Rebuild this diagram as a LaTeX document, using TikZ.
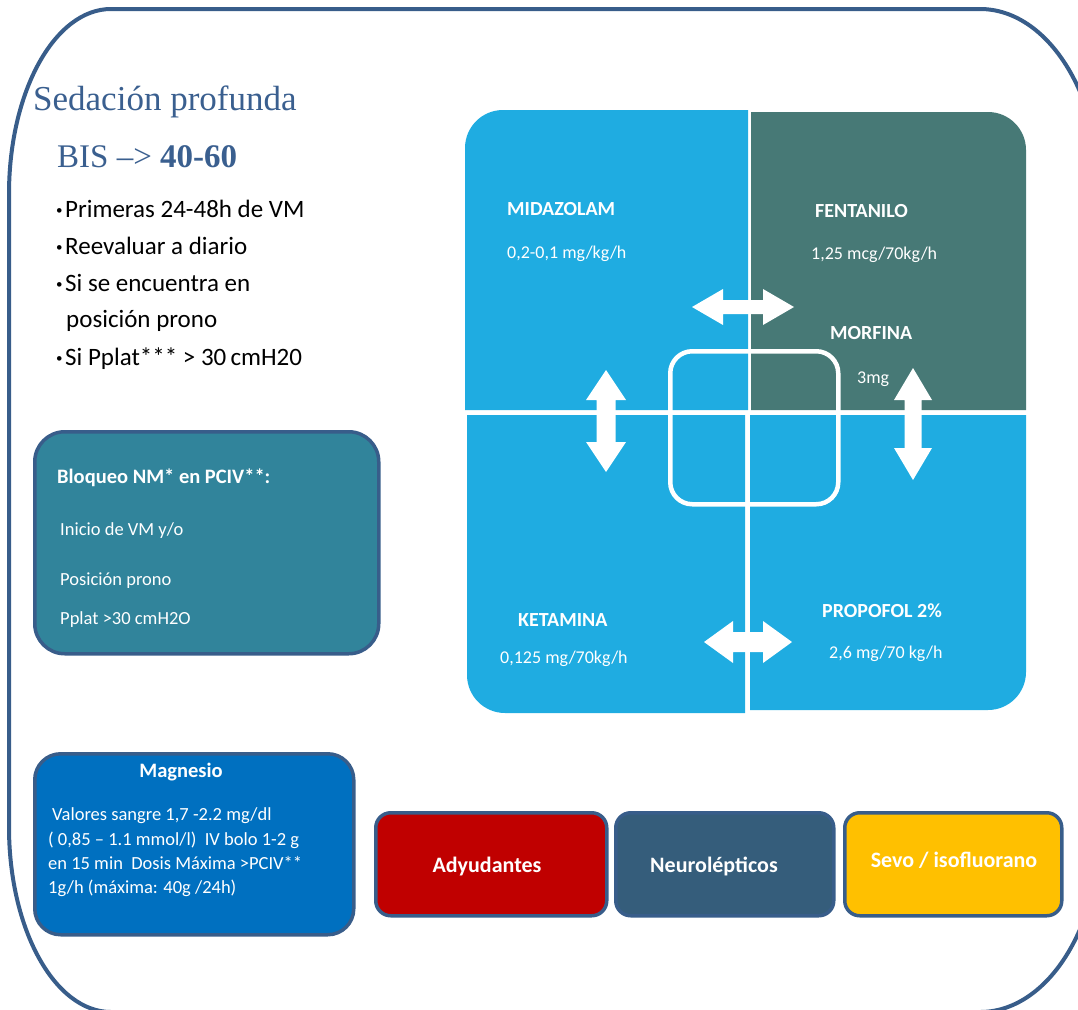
\documentclass[tikz,border=0pt]{standalone}
\usepackage{fontspec}
\setmainfont{Carlito}
\newfontfamily\headfont{Liberation Serif}

\definecolor{framec}{HTML}{385D8A}
\definecolor{headc}{HTML}{3A5F8F}
\definecolor{quadblue}{HTML}{1FACE1}
\definecolor{quadgreen}{HTML}{477976}
\definecolor{nmteal}{HTML}{31849B}
\definecolor{mgblue}{HTML}{0070C0}
\definecolor{adred}{HTML}{C00000}
\definecolor{neuroc}{HTML}{355D7B}
\definecolor{sevoc}{HTML}{FFC000}

\newcommand{\twoway}[6]{%
	\fill[white, shift={(#1)}, rotate=#2]
	(-#3,0) -- (-#3+#4,#5) -- (-#3+#4,#6) -- (#3-#4,#6) -- (#3-#4,#5) -- (#3,0)
	-- (#3-#4,-#5) -- (#3-#4,-#6) -- (-#3+#4,-#6) -- (-#3+#4,-#5) -- cycle;}
\newcommand{\dotmark}{\raisebox{3pt}{\fontsize{13}{13}\selectfont\textbullet}\hspace{2.5pt}}

\tikzset{
	panel/.style={draw=framec, line width=3.5pt, rounded corners=#1, anchor=north west, inner sep=0pt},
	item/.style={anchor=base west, inner sep=0pt, font=\fontsize{25}{30}\selectfont},
	drug/.style={anchor=base west, inner sep=0pt, text=white, font=\fontsize{20}{24}\selectfont\bfseries},
	dose/.style={anchor=base west, inner sep=0pt, text=white, font=\fontsize{18}{22}\selectfont},
	nmtext/.style={anchor=base west, inner sep=0pt, text=white, font=\fontsize{18.5}{22}\selectfont},
	nmhead/.style={inner sep=0pt, text=white, font=\fontsize{20.5}{24}\selectfont\bfseries},
	boxlabel/.style={anchor=base, inner sep=0pt, text=white, font=\fontsize{22}{26}\selectfont\bfseries}
}

\begin{document}
\begin{tikzpicture}[x=1pt, y=-1pt]
		\useasboundingbox (0,0) rectangle (1078,1009);
		\clip (0,0) rectangle (1078,1009);
		
		\draw[framec, line width=4pt] (111,9) -- (980,9)
		arc[start angle=270, end angle=360, x radius=120, y radius=185] -- (1100,827)
		arc[start angle=0, end angle=90, x radius=120, y radius=185] -- (111,1012)
		arc[start angle=90, end angle=180, x radius=102, y radius=185] -- (9,194)
		arc[start angle=180, end angle=270, x radius=102, y radius=185] -- cycle;
		
		\node[anchor=base west, inner sep=0pt, text=headc, font=\headfont\fontsize{35}{40}\selectfont] (title) at (33,110) {Sedación profunda};
		\node[anchor=base west, inner sep=0pt, text=headc, font=\headfont\fontsize{33}{38}\selectfont] (bis) at (57,167) {BIS –> \textbf{40-60}};
		
		\node[item] (b1) at (56,217) {\dotmark Primeras 24-48h de VM};
		\node[item] (b2) at (56,254) {\dotmark Reevaluar a diario};
		\node[item] (b3) at (56,291) {\dotmark Si se encuentra en};
		\node[item] (b3b) at (66,327) {posición prono};
		\node[item] (b4) at (56,365) {\dotmark Si Pplat*** > 30\,cmH20};
		
		\fill[quadblue] (748,410) -- (465,410) -- (465,148)
		arc[start angle=180, end angle=270, radius=38] -- (748,110) -- cycle;
		\fill[quadgreen] (751,410) -- (751,112) -- (988,112)
		arc[start angle=270, end angle=360, radius=38] -- (1026,410) -- cycle;
		\fill[quadblue] (745,415) -- (467,415) -- (467,675)
		arc[start angle=180, end angle=90, radius=38] -- (745,713) -- cycle;
		\fill[quadblue] (750,415) -- (1026,415) -- (1026,672)
		arc[start angle=0, end angle=90, radius=38] -- (750,710) -- cycle;
		
		\node[draw=white, line width=4.5pt, rounded corners=22pt, anchor=north west, inner sep=0pt,
		minimum width=168pt, minimum height=153pt] (core) at (668,349) {};
		
		\coordinate (ha) at (743,307);
		\coordinate (hb) at (748,642);
		\coordinate (va) at (606,421);
		\coordinate (vb) at (913,424);
		\twoway{ha}{0}{51}{31}{18}{7}
		\twoway{hb}{0}{44}{29}{21}{10}
		\twoway{va}{90}{51}{30}{20}{9.5}
		\twoway{vb}{90}{56}{32}{19}{8.5}
		
		\node[drug] (mida) at (507,215) {MIDAZOLAM};
		\node[dose] (midad) at (507,258) {0,2-0,1 mg/kg/h};
		\node[drug] (fent) at (815,217) {FENTANILO};
		\node[dose] (fentd) at (811,259) {1,25 mcg/70kg/h};
		\node[drug] (morf) at (830,339) {MORFINA};
		\node[dose] (morfd) at (857,383) {3mg};
		\node[drug] (keta) at (518,626) {KETAMINA};
		\node[dose] (ketad) at (500,663) {0,125 mg/70kg/h};
		\node[drug] (prop) at (822,617) {PROPOFOL 2\%};
		\node[dose] (propd) at (829,658) {2,6 mg/70 kg/h};
		
		\node[panel=30pt, fill=nmteal, minimum width=344pt, minimum height=222pt] (nm) at (33,430) {};
		\node[nmhead, anchor=base west] (nmh) at (57,483) {Bloqueo NM* en PCIV**:};
		\node[nmtext] (nm1) at (60,535) {Inicio de VM y/o};
		\node[nmtext] (nm2) at (60,585) {Posición prono};
		\node[nmtext] (nm3) at (60,624) {Pplat >30 cmH2O};
		
		\node[panel=26pt, fill=mgblue, minimum width=319pt, minimum height=181pt] (mg) at (33,752) {};
		\node[nmhead, anchor=base] (mgh) at (181,777) {Magnesio};
		\node[nmtext] (mg1) at (52,820) {Valores sangre 1,7 -2.2 mg/dl};
		\node[nmtext] (mg2) at (48,845) {( 0,85 – 1.1 mmol/l)\ \ IV bolo 1-2 g};
		\node[nmtext] (mg3) at (48,869) {en 15 min\ \ Dosis Máxima >PCIV**};
		\node[nmtext] (mg4) at (48,893) {1g/h (máxima: 40g /24h)};
		
		\node[panel=15pt, fill=adred, minimum width=231pt, minimum height=103pt] (adj) at (374,811) {};
		\node[panel=15pt, fill=neuroc, minimum width=218pt, minimum height=103pt] (neuro) at (614,811) {};
		\node[panel=15pt, fill=sevoc, minimum width=217pt, minimum height=103pt] (sevo) at (843,811) {};
		\node[boxlabel] (adjl) at (487,872) {Adyudantes};
		\node[boxlabel] (neurol) at (714,872) {Neurolépticos};
		\node[boxlabel] (sevol) at (954,867) {Sevo / isofluorano};
\end{tikzpicture}
\end{document}
